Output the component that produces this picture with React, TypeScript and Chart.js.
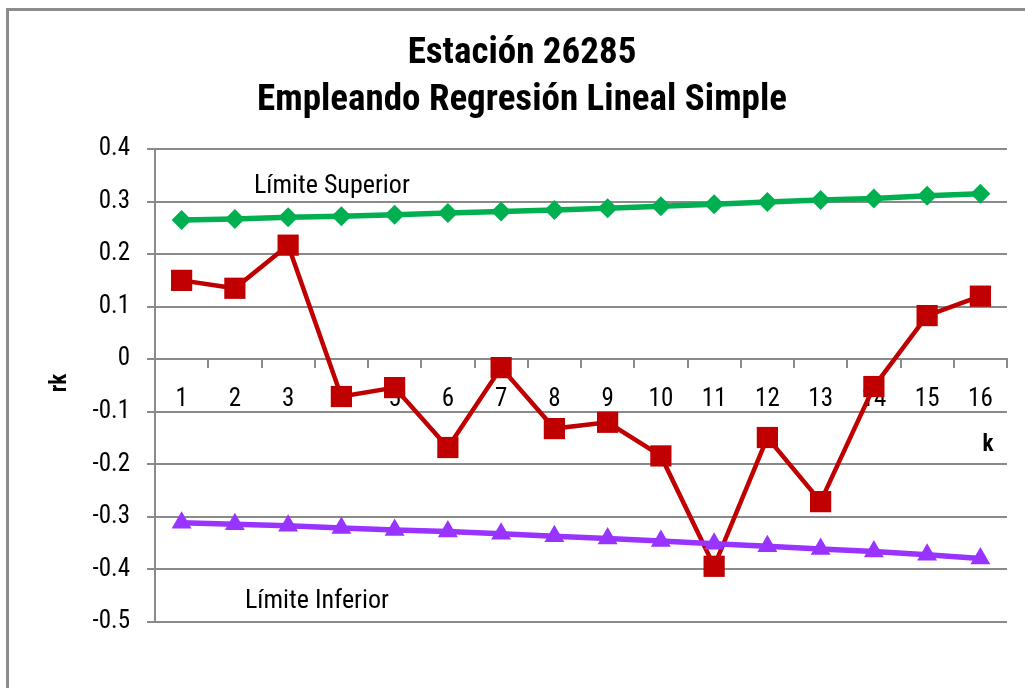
import React, { useEffect, useRef } from "react";
import { Chart, registerables } from "chart.js";

Chart.register(...registerables);

const categories = ["1", "2", "3", "4", "5", "6", "7", "8", "9", "10", "11", "12", "13", "14", "15", "16"];
const rkValues = [0.15, 0.135, 0.217, -0.071, -0.054, -0.168, -0.016, -0.132, -0.12, -0.184, -0.394, -0.149, -0.271, -0.052, 0.083, 0.12];
const upperLimit = [0.265, 0.267, 0.27, 0.272, 0.275, 0.278, 0.281, 0.284, 0.287, 0.291, 0.295, 0.299, 0.303, 0.306, 0.311, 0.315];
const lowerLimit = [-0.311, -0.314, -0.317, -0.321, -0.325, -0.328, -0.332, -0.337, -0.341, -0.346, -0.351, -0.356, -0.361, -0.366, -0.372, -0.379];
const titleLines = ["Estación 26285", "Empleando Regresión Lineal Simple"];
const upperLabel = "Límite Superior";
const lowerLabel = "Límite Inferior";
const xTitle = "k";
const yTitle = "rk";

const FONT = '"Roboto Condensed", "Liberation Sans Narrow", "Arial Narrow", sans-serif';
const GRID = "#8a8a8a";

const annotations = {
  id: "annotations",
  beforeDraw(chart: any) {
    const ctx = chart.ctx;
    ctx.save();
    ctx.strokeStyle = "#8c8c8c";
    ctx.lineWidth = 3;
    ctx.beginPath();
    ctx.moveTo(7.5, 688);
    ctx.lineTo(7.5, 9.5);
    ctx.lineTo(1025, 9.5);
    ctx.stroke();
    ctx.restore();
  },
  afterDraw(chart: any) {
    const ctx = chart.ctx;
    ctx.save();
    ctx.fillStyle = "#000";
    ctx.textBaseline = "middle";
    ctx.textAlign = "left";
    ctx.font = `26px ${FONT}`;
    ctx.fillText(upperLabel, 254, 186);
    ctx.fillText(lowerLabel, 245, 601);
    ctx.font = `bold 23px ${FONT}`;
    ctx.textAlign = "center";
    ctx.fillText(xTitle, 988, 445);
    ctx.translate(60, 383);
    ctx.rotate(-Math.PI / 2);
    ctx.fillText(yTitle, 0, 0);
    ctx.restore();
  },
};

export default function App() {
  const ref = useRef<HTMLCanvasElement | null>(null);
  useEffect(() => {
    document.body.style.margin = "0";
    const chart = new Chart(ref.current as HTMLCanvasElement, {
      type: "line",
      data: {
        labels: categories,
        datasets: [
          {
            label: "rk",
            data: rkValues,
            borderColor: "#C00000",
            backgroundColor: "#C00000",
            borderWidth: 4.5,
            pointStyle: "rect",
            pointRadius: 15,
            pointBorderWidth: 0,
            pointHoverRadius: 15,
            order: 3,
          },
          {
            label: upperLabel,
            data: upperLimit,
            borderColor: "#00B050",
            backgroundColor: "#00B050",
            borderWidth: 5.5,
            pointStyle: "rectRot",
            pointRadius: 10,
            pointBorderWidth: 0,
            order: 2,
          },
          {
            label: lowerLabel,
            data: lowerLimit,
            borderColor: "#9933FF",
            backgroundColor: "#9933FF",
            borderWidth: 5.5,
            pointStyle: "triangle",
            pointRadius: 11.5,
            pointBorderWidth: 0,
            order: 1,
          },
        ],
      },
      options: {
        animation: false,
        responsive: false,
        maintainAspectRatio: false,
        layout: { padding: { left: 37, right: 18, top: 10, bottom: 66 } },
        plugins: {
          legend: { display: false },
          tooltip: { enabled: false },
          title: {
            display: true,
            text: titleLines,
            color: "#000",
            font: { family: FONT, size: 37, weight: "bold", lineHeight: 1.27 },
            padding: { top: 20, bottom: 25 },
          },
        },
        scales: {
          x: {
            type: "category",
            position: { y: 0 } as any,
            offset: true,
            grid: {
              offset: true,
              drawOnChartArea: false,
              drawTicks: true,
              tickLength: 8,
              color: GRID,
              lineWidth: 2,
            },
            border: { display: true, color: GRID, width: 2 },
            ticks: {
              color: "#000",
              font: { family: FONT, size: 25 },
              padding: 18,
              maxRotation: 0,
              autoSkip: false,
            },
          },
          y: {
            min: -0.5,
            max: 0.4,
            afterFit: (s: any) => {
              s.width = 118;
            },
            grid: { color: GRID, lineWidth: 2, tickLength: 8, drawTicks: true },
            border: { display: true, color: GRID, width: 2 },
            ticks: {
              stepSize: 0.1,
              color: "#000",
              font: { family: FONT, size: 25 },
              padding: 17,
              callback: (v: any) => String(Math.round(Number(v) * 10) / 10),
            },
          },
        },
      },
      plugins: [annotations],
    });
    return () => chart.destroy();
  }, []);
  return (
    <div style={{ position: "absolute", left: 0, top: 0, width: 1025, height: 688, background: "#fff" }}>
      <canvas ref={ref} width={1025} height={688} style={{ width: 1025, height: 688 }} />
    </div>
  );
}
